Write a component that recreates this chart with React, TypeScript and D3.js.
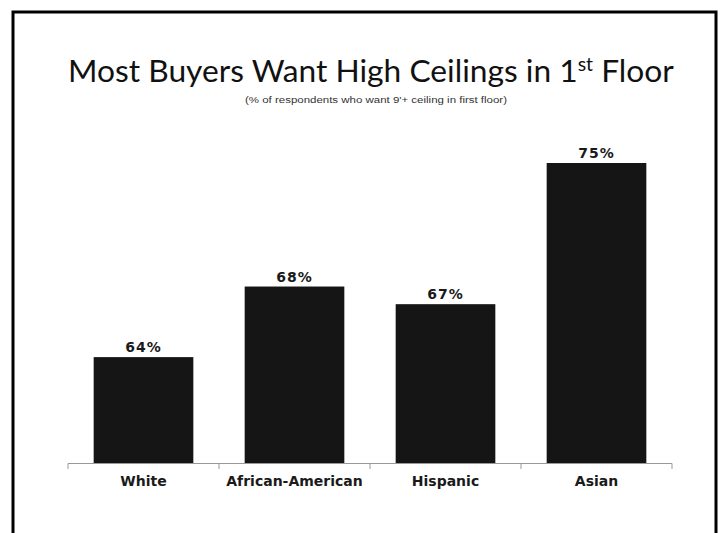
import React, { useLayoutEffect, useRef, useState } from "react";
import * as d3 from "d3";

const categories = ["White", "African-American", "Hispanic", "Asian"];
const values = [64, 68, 67, 75];
const valueLabels = ["64%", "68%", "67%", "75%"];
const titleMain = "Most Buyers Want High Ceilings in 1";
const titleSup = "st";
const titleEnd = " Floor";
const subtitle = "(% of respondents who want 9'+ ceiling in first floor)";

const W = 722;
const H = 533;

function FitText({ x, y, width, children, ...rest }: any) {
  const ref = useRef<SVGTextElement>(null);
  const [k, setK] = useState(1);
  useLayoutEffect(() => {
    if (ref.current) {
      const w = ref.current.getBBox().width;
      if (w > 0) setK(width / w);
    }
  }, [width]);
  return (
    <g transform={`translate(${x},${y}) scale(${k},1)`}>
      <text ref={ref} x={0} y={0} {...rest}>
        {children}
      </text>
    </g>
  );
}

export default function App() {
  const x = d3.scaleBand<string>().domain(categories).range([68, 672]).paddingInner(0.34).paddingOuter(0.17);
  const y = d3.scaleLinear().domain([58, 75]).range([463, 163]);
  const bounds = d3.range(categories.length + 1).map((i) => 68 + (i * (672 - 68)) / categories.length);

  return (
    <svg
      width={W}
      height={H}
      style={{ position: "absolute", left: 0, top: 0, background: "#fff" }}
    >
      <rect x={0} y={0} width={W} height={H} fill="#fff" />
      <rect x={13} y={12} width={703} height={H} fill="none" stroke="#000" strokeWidth={3} />

      <FitText
        x={68}
        y={82}
        width={607}
        fontFamily="Lato, 'Open Sans', sans-serif"
        fontSize={31}
        fill="#111"
      >
        {titleMain}
        <tspan fontSize={19} dy={-11}>{titleSup}</tspan>
        <tspan fontSize={31} dy={11}>{titleEnd}</tspan>
      </FitText>

      <text
        x={376}
        y={103}
        textAnchor="middle"
        fontFamily="'Liberation Sans Narrow', 'Liberation Sans', sans-serif"
        fontSize={8.5}
        fill="#333"
        textLength={262}
        lengthAdjust="spacingAndGlyphs"
      >
        {subtitle}
      </text>

      {/* axis */}
      <line x1={68} x2={672} y1={463.5} y2={463.5} stroke="#999" strokeWidth={1} />
      {bounds.map((b, i) => (
        <line key={i} x1={b} x2={b} y1={463.5} y2={469} stroke="#999" strokeWidth={1} />
      ))}

      {categories.map((c, i) => (
        <g key={c}>
          <rect
            x={x(c)!}
            y={y(values[i])}
            width={x.bandwidth()}
            height={y(58) - y(values[i])}
            fill="#151515"
          />
          <text
            x={x(c)! + x.bandwidth() / 2}
            y={y(values[i]) - 5}
            textAnchor="middle"
            fontFamily="'DejaVu Sans', Verdana, sans-serif"
            fontWeight="bold"
            fontSize={14}
            letterSpacing={1}
            fill="#1a1a1a"
          >
            {valueLabels[i]}
          </text>
          <text
            x={x(c)! + x.bandwidth() / 2}
            y={486}
            textAnchor="middle"
            fontFamily="'DejaVu Sans', Verdana, sans-serif"
            fontWeight="bold"
            fontSize={14}
            fill="#1a1a1a"
          >
            {c}
          </text>
        </g>
      ))}
    </svg>
  );
}
